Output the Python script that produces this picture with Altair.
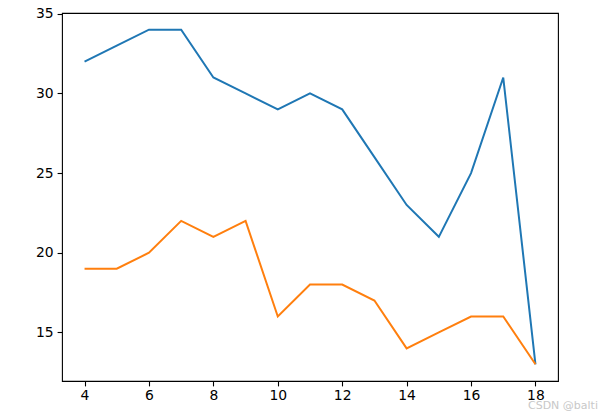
import altair as alt
import pandas as pd

x_vals = [4, 5, 6, 7, 8, 9, 10, 11, 12, 13, 14, 15, 16, 17, 18]
blue_vals = [32, 33, 34, 34, 31, 30, 29, 30, 29, 26, 23, 21, 25, 31, 13]
orange_vals = [19, 19, 20, 22, 21, 22, 16, 18, 18, 17, 14, 15, 16, 16, 13]
x_ticks = [4, 6, 8, 10, 12, 14, 16, 18]
y_ticks = [15, 20, 25, 30, 35]

rows = []
for x, b, o in zip(x_vals, blue_vals, orange_vals):
    rows.append({"x": x, "y": b, "s": "a"})
    rows.append({"x": x, "y": o, "s": "b"})
df = pd.DataFrame(rows)

font = "DejaVu Sans"
xaxis = alt.Axis(values=x_ticks, grid=False, title=None, labelFont=font, labelFontSize=13.9,
                 labelColor="black", tickColor="black", tickSize=4.9, tickWidth=1.1,
                 labelPadding=3, domain=False, labelFlush=False)
yaxis = alt.Axis(values=y_ticks, grid=False, title=None, labelFont=font, labelFontSize=13.9,
                 labelColor="black", tickColor="black", tickSize=4.9, tickWidth=1.1,
                 labelPadding=4, domain=False)

lines = alt.Chart(df).mark_line(strokeWidth=2).encode(
    x=alt.X("x:Q", scale=alt.Scale(domain=[3.3, 18.7], nice=False, zero=False), axis=xaxis),
    y=alt.Y("y:Q", scale=alt.Scale(domain=[11.95, 35.05], nice=False, zero=False), axis=yaxis),
    color=alt.Color("s:N", scale=alt.Scale(domain=["a", "b"], range=["#1f77b4", "#ff7f0e"]), legend=None),
)

wm = alt.Chart(pd.DataFrame({"t": ["CSDN @balti"]})).mark_text(
    font=font, fontSize=11, color="#c8c8c8", align="right", baseline="middle"
).encode(text="t:N", x=alt.value(536), y=alt.value(393))

chart = alt.layer(lines, wm).properties(
    width=496, height=368,
    autosize=alt.AutoSizeParams(type="none"),
    padding={"left": 54, "top": 5, "right": 40, "bottom": 30},
).configure_view(stroke="black", strokeWidth=1.1)

chart.save("out.html", embed_options={"renderer": "svg", "actions": False})
